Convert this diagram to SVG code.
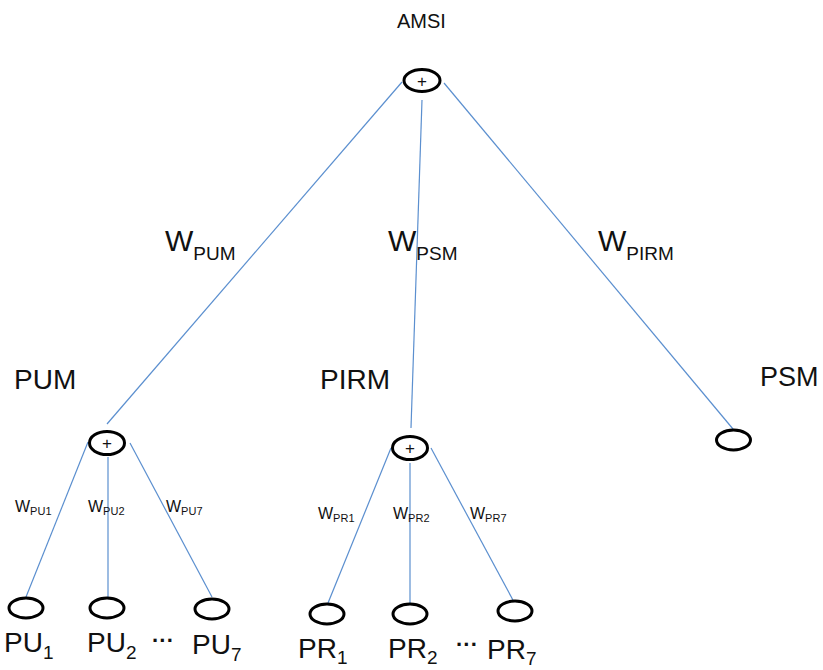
<svg xmlns="http://www.w3.org/2000/svg" width="823" height="670" viewBox="0 0 823 670">
<style>
text{font-family:"Liberation Sans",Arial,sans-serif;fill:#111}
.n{fill:#fff;stroke:#000;stroke-width:3}
.c line{stroke:#5b8fcf;stroke-width:1.2}
.big{font-size:28px}
.w{font-size:30px}
.ws{font-size:19px}
.sw{font-size:16px}
.ss{font-size:11px}
.lf{font-size:28px}
.lfs{font-size:19px}
.plus{font-size:17px;text-anchor:middle}
.dots{font-size:22px;font-weight:bold}
</style>
<rect width="823" height="670" fill="#fff"/>
<g id="connectors" class="c">
<line x1="402" y1="82" x2="107" y2="424"/>
<line x1="422" y1="100" x2="411" y2="428"/>
<line x1="444" y1="83" x2="733" y2="429"/>
<line x1="88" y1="442" x2="26" y2="597"/>
<line x1="108" y1="457" x2="108" y2="597"/>
<line x1="130" y1="443" x2="212" y2="597"/>
<line x1="391" y1="448" x2="328" y2="603"/>
<line x1="410" y1="463" x2="410" y2="603"/>
<line x1="431" y1="448" x2="514" y2="602"/>
</g>
<g id="edge-labels">
<text x="165" y="251" class="w">W<tspan class="ws" dy="9">PUM</tspan></text>
<text x="388" y="251" class="w">W<tspan class="ws" dy="9">PSM</tspan></text>
<text x="598" y="251" class="w">W<tspan class="ws" dy="9">PIRM</tspan></text>
<text x="15" y="512" class="sw">W<tspan class="ss" dy="3">PU1</tspan></text>
<text x="88" y="512" class="sw">W<tspan class="ss" dy="3">PU2</tspan></text>
<text x="166" y="512" class="sw">W<tspan class="ss" dy="3">PU7</tspan></text>
<text x="318" y="519" class="sw">W<tspan class="ss" dy="3">PR1</tspan></text>
<text x="393" y="519" class="sw">W<tspan class="ss" dy="3">PR2</tspan></text>
<text x="470" y="519" class="sw">W<tspan class="ss" dy="3">PR7</tspan></text>
</g>
<g id="amsi">
<text x="397" y="28" style="font-size:20px">AMSI</text>
<ellipse class="n" cx="422" cy="80.5" rx="18" ry="11"/>
<text x="422" y="86.5" class="plus">+</text>
</g>
<g id="pum">
<text x="14" y="389" class="big">PUM</text>
<ellipse class="n" cx="107" cy="443" rx="17.5" ry="11.5"/>
<text x="107" y="449" class="plus">+</text>
</g>
<g id="pirm">
<text x="320" y="389" class="big">PIRM</text>
<ellipse class="n" cx="410" cy="448" rx="17.5" ry="11.5"/>
<text x="410" y="454" class="plus">+</text>
</g>
<g id="psm">
<text x="760" y="386" style="font-size:27px">PSM</text>
<ellipse class="n" cx="733.5" cy="440" rx="17" ry="10"/>
</g>
<g id="pu1"><ellipse class="n" cx="26" cy="608" rx="17" ry="10"/><text x="4" y="652" class="lf">PU<tspan class="lfs" dy="7">1</tspan></text></g>
<g id="pu2"><ellipse class="n" cx="107" cy="608" rx="17" ry="10"/><text x="87" y="652" class="lf">PU<tspan class="lfs" dy="7">2</tspan></text></g>
<g id="pu7"><ellipse class="n" cx="212" cy="609" rx="17" ry="10"/><text x="192" y="654" class="lf">PU<tspan class="lfs" dy="7">7</tspan></text></g>
<text x="152" y="648" class="dots">···</text>
<g id="pr1"><ellipse class="n" cx="327" cy="614" rx="17" ry="10"/><text x="298" y="658" class="lf">PR<tspan class="lfs" dy="6">1</tspan></text></g>
<g id="pr2"><ellipse class="n" cx="410" cy="614" rx="17" ry="10"/><text x="388" y="658" class="lf">PR<tspan class="lfs" dy="6">2</tspan></text></g>
<g id="pr7"><ellipse class="n" cx="515" cy="611" rx="17" ry="10"/><text x="487" y="659" class="lf">PR<tspan class="lfs" dy="6">7</tspan></text></g>
<text x="456" y="652" class="dots">···</text>
</svg>
